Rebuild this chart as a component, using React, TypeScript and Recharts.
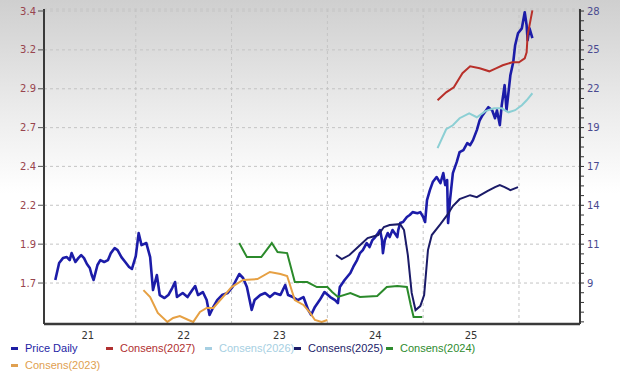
import { LineChart, Line, XAxis, YAxis, CartesianGrid, ReferenceLine } from "recharts";

// time is a decimal year, price on the right axis, consensus EPS on the left axis
const PRICE: [number, number][] = [
  [2021.16, 9.21], [2021.2, 10.4], [2021.24, 10.74], [2021.28, 10.81], [2021.31, 10.6],
  [2021.33, 11.09], [2021.37, 10.47], [2021.4, 10.74], [2021.43, 10.95], [2021.46, 10.74],
  [2021.49, 10.33], [2021.52, 10.05], [2021.54, 9.56], [2021.56, 9.21], [2021.6, 10.26],
  [2021.63, 10.6], [2021.67, 10.47], [2021.71, 10.6], [2021.74, 11.09], [2021.78, 11.44],
  [2021.81, 11.3], [2021.85, 10.81], [2021.89, 10.47], [2021.93, 10.12], [2021.96, 9.98],
  [2022.0, 10.88], [2022.03, 12.49], [2022.06, 11.65], [2022.11, 11.79], [2022.15, 10.81],
  [2022.18, 8.51], [2022.22, 9.56], [2022.25, 8.16], [2022.3, 7.95], [2022.34, 8.16],
  [2022.38, 8.65], [2022.41, 9.07], [2022.43, 8.02], [2022.49, 8.3], [2022.54, 8.02],
  [2022.59, 8.51], [2022.62, 8.79], [2022.65, 8.16], [2022.7, 8.37], [2022.74, 7.81],
  [2022.77, 6.77], [2022.81, 7.33], [2022.85, 7.81], [2022.9, 8.16], [2022.96, 8.3],
  [2023.01, 8.72], [2023.08, 9.63], [2023.12, 9.35], [2023.16, 8.72], [2023.21, 7.12],
  [2023.24, 7.81], [2023.3, 8.16], [2023.35, 8.3], [2023.4, 8.02], [2023.45, 8.3],
  [2023.51, 8.16], [2023.56, 8.86], [2023.59, 8.16], [2023.64, 8.02], [2023.69, 7.81],
  [2023.75, 8.02], [2023.8, 7.12], [2023.83, 6.77], [2023.87, 7.33], [2023.92, 7.81],
  [2023.97, 8.37], [2024.03, 8.02], [2024.08, 7.81], [2024.11, 7.6], [2024.13, 8.72],
  [2024.18, 9.21], [2024.24, 9.7], [2024.27, 10.12], [2024.31, 10.6], [2024.34, 11.09],
  [2024.37, 11.3], [2024.41, 11.79], [2024.44, 11.51], [2024.47, 12.0], [2024.5, 12.21],
  [2024.53, 12.49], [2024.55, 12.7], [2024.57, 12.0], [2024.58, 11.09], [2024.6, 12.0],
  [2024.63, 12.49], [2024.65, 12.21], [2024.68, 12.7], [2024.73, 12.21], [2024.74, 12.7],
  [2024.76, 13.19], [2024.79, 13.26], [2024.83, 13.61], [2024.86, 13.75], [2024.89, 13.95],
  [2024.94, 13.88], [2024.97, 13.95], [2025.0, 13.61], [2025.02, 13.26], [2025.04, 14.79],
  [2025.07, 15.49], [2025.1, 16.05], [2025.14, 16.4], [2025.18, 15.98], [2025.21, 16.68],
  [2025.23, 15.84], [2025.25, 16.19], [2025.26, 13.19], [2025.28, 14.79], [2025.31, 16.68],
  [2025.35, 17.44], [2025.38, 18.14], [2025.42, 18.28], [2025.46, 18.77], [2025.49, 18.63],
  [2025.52, 18.98], [2025.56, 19.68], [2025.59, 20.37], [2025.62, 20.72], [2025.68, 21.28],
  [2025.72, 21.07], [2025.75, 20.51], [2025.77, 21.07], [2025.8, 20.03], [2025.82, 21.42],
  [2025.85, 22.82], [2025.87, 21.07], [2025.91, 23.51], [2025.94, 24.42], [2025.96, 25.61],
  [2025.99, 26.45], [2026.03, 26.79], [2026.06, 27.91], [2026.08, 27.0], [2026.09, 25.96],
  [2026.11, 26.79], [2026.14, 26.1],
];

const CONS_2027: [number, number][] = [
  [2025.15, 2.842], [2025.24, 2.892], [2025.32, 2.923], [2025.41, 3.011], [2025.49, 3.054],
  [2025.59, 3.042], [2025.69, 3.023], [2025.76, 3.042], [2025.83, 3.061], [2025.93, 3.079],
  [2026.0, 3.079], [2026.06, 3.104], [2026.08, 3.142], [2026.09, 3.248], [2026.14, 3.404],
];

const CONS_2026: [number, number][] = [
  [2025.15, 2.543], [2025.24, 2.661], [2025.31, 2.686], [2025.38, 2.73], [2025.48, 2.761],
  [2025.56, 2.736], [2025.65, 2.774], [2025.74, 2.792], [2025.82, 2.792], [2025.89, 2.767],
  [2025.96, 2.78], [2026.03, 2.811], [2026.08, 2.842], [2026.14, 2.886],
];

const CONS_2025: [number, number][] = [
  [2024.09, 1.875], [2024.15, 1.85], [2024.23, 1.875], [2024.32, 1.925], [2024.42, 1.981],
  [2024.53, 2.0], [2024.59, 2.05], [2024.65, 2.062], [2024.76, 2.068], [2024.8, 2.031],
  [2024.84, 1.875], [2024.88, 1.638], [2024.92, 1.531], [2024.97, 1.556], [2025.01, 1.625],
  [2025.05, 1.906], [2025.09, 2.0], [2025.18, 2.068], [2025.25, 2.124], [2025.31, 2.181],
  [2025.38, 2.224], [2025.49, 2.249], [2025.56, 2.237], [2025.67, 2.274], [2025.75, 2.299],
  [2025.8, 2.312], [2025.85, 2.299], [2025.91, 2.281], [2025.99, 2.299],
];

const CONS_2024: [number, number][] = [
  [2023.08, 1.95], [2023.16, 1.862], [2023.31, 1.862], [2023.42, 1.95], [2023.48, 1.894],
  [2023.58, 1.887], [2023.66, 1.706], [2023.79, 1.706], [2023.89, 1.675], [2024.0, 1.675],
  [2024.05, 1.644], [2024.11, 1.613], [2024.24, 1.638], [2024.34, 1.613], [2024.52, 1.619],
  [2024.62, 1.675], [2024.73, 1.681], [2024.83, 1.675], [2024.87, 1.563], [2024.9, 1.488],
  [2024.99, 1.488],
];

const CONS_2023: [number, number][] = [
  [2022.08, 1.656], [2022.15, 1.613], [2022.23, 1.513], [2022.33, 1.457], [2022.39, 1.482],
  [2022.46, 1.494], [2022.55, 1.469], [2022.6, 1.457], [2022.67, 1.519], [2022.74, 1.544],
  [2022.81, 1.544], [2022.9, 1.606], [2023.0, 1.675], [2023.12, 1.719], [2023.27, 1.725],
  [2023.4, 1.769], [2023.51, 1.756], [2023.58, 1.744], [2023.66, 1.594], [2023.75, 1.563],
  [2023.82, 1.513], [2023.87, 1.469], [2023.94, 1.457], [2024.0, 1.469],
];

const YEAR_TICKS = [2021.5, 2022.5, 2023.5, 2024.5, 2025.5];
const YEAR_LABELS = ["21", "22", "23", "24", "25"];
const YEAR_STARTS = [2022, 2023, 2024, 2025, 2026];

const LEFT_TICKS = [1.7, 1.943, 2.186, 2.429, 2.671, 2.914, 3.157, 3.4];
const LEFT_LABELS = ["1.7", "1.9", "2.2", "2.4", "2.7", "2.9", "3.2", "3.4"];
const RIGHT_TICKS = [9, 11.714, 14.429, 17.143, 19.857, 22.571, 25.286, 28];
const RIGHT_LABELS = ["9", "11", "14", "17", "19", "22", "25", "28"];

const X_DOMAIN = [2021.042, 2026.637];
const LEFT_DOMAIN = [1.444, 3.4125];
const RIGHT_DOMAIN = [6.137, 28.14];

const toRows = (pairs: [number, number][]) => pairs.map(([t, v]) => ({ t, v }));

// right axis carries four minor ticks per labelled step
const step = (RIGHT_TICKS[1] - RIGHT_TICKS[0]) / 4;
const rightAllTicks: number[] = [];
for (let v = RIGHT_TICKS[0] - step * 4; v <= 28.001; v += step) {
  if (v >= RIGHT_DOMAIN[0]) rightAllTicks.push(Math.round(v * 1000) / 1000);
}

const SERIES = [
  { name: "Consens(2023)", data: CONS_2023, color: "#e6a043" },
  { name: "Consens(2024)", data: CONS_2024, color: "#2b8a2b" },
  { name: "Consens(2025)", data: CONS_2025, color: "#1b1b68" },
  { name: "Consens(2026)", data: CONS_2026, color: "#8ccfd4" },
  { name: "Consens(2027)", data: CONS_2027, color: "#b8302a" },
];

const LEGEND = [
  { name: "Price Daily", color: "#1e1ea4", left: 11, top: 342 },
  { name: "Consens(2027)", color: "#b03030", left: 106, top: 342 },
  { name: "Consens(2026)", color: "#a6cfe2", left: 205, top: 342 },
  { name: "Consens(2025)", color: "#1b1b68", left: 294, top: 342 },
  { name: "Consens(2024)", color: "#2e8b2e", left: 386, top: 342 },
  { name: "Consens(2023)", color: "#e0a050", left: 11, top: 359 },
];

const tickFont = { fontSize: 10, fontFamily: "DejaVu Sans" };

export default function App() {
  return (
    <div
      style={{
        position: "absolute",
        left: 0,
        top: 0,
        width: 620,
        height: 372,
        background: "linear-gradient(to bottom, #cfcfcf 0%, #ececec 30%, #ffffff 52%)",
      }}
    >
      <LineChart width={620} height={372} margin={{ top: 9, right: 0, bottom: 28, left: 0 }}>
        <CartesianGrid yAxisId="left" vertical={false} stroke="#c4c4c4" strokeDasharray="3 3" />
        <XAxis
          type="number"
          dataKey="t"
          domain={X_DOMAIN}
          allowDataOverflow
          ticks={YEAR_TICKS}
          interval={0}
          tickFormatter={(v: number) => YEAR_LABELS[YEAR_TICKS.indexOf(v)] ?? ""}
          tick={{ ...tickFont, fill: "#333" }}
          tickLine={false}
          axisLine={{ stroke: "#3a3a3a", strokeWidth: 2.5 }}
          height={20}
        />
        <YAxis
          yAxisId="left"
          domain={LEFT_DOMAIN}
          allowDataOverflow
          ticks={LEFT_TICKS}
          interval={0}
          tickFormatter={(v: number) => LEFT_LABELS[LEFT_TICKS.indexOf(v)] ?? ""}
          tick={{ ...tickFont, fill: "#98444e" }}
          tickSize={6}
          tickMargin={2}
          tickLine={{ stroke: "#555" }}
          axisLine={{ stroke: "#3a3a3a", strokeWidth: 2 }}
          width={44}
        />
        <YAxis
          yAxisId="right"
          orientation="right"
          domain={RIGHT_DOMAIN}
          allowDataOverflow
          ticks={rightAllTicks}
          interval={0}
          tickFormatter={(v: number) => {
            const i = RIGHT_TICKS.findIndex((m) => Math.abs(m - v) < 0.01);
            return i >= 0 ? RIGHT_LABELS[i] : "";
          }}
          tick={{ ...tickFont, fill: "#4a4a90" }}
          tickSize={4}
          tickMargin={3}
          tickLine={{ stroke: "#333" }}
          axisLine={{ stroke: "#3a3a3a", strokeWidth: 2 }}
          width={40}
        />
        {YEAR_STARTS.map((y) => (
          <ReferenceLine key={y} x={y} yAxisId="left" stroke="#c4c4c4" strokeDasharray="3 3" />
        ))}
        <Line
          yAxisId="right"
          data={toRows(PRICE)}
          dataKey="v"
          stroke="#1c1ca8"
          strokeWidth={2.6}
          strokeLinejoin="round"
          dot={false}
          isAnimationActive={false}
        />
        {SERIES.map((s) => (
          <Line
            key={s.name}
            yAxisId="left"
            data={toRows(s.data)}
            dataKey="v"
            stroke={s.color}
            strokeWidth={2}
            dot={false}
            isAnimationActive={false}
          />
        ))}
      </LineChart>
      {LEGEND.map((l) => (
        <div
          key={l.name}
          style={{
            position: "absolute",
            left: l.left,
            top: l.top,
            display: "flex",
            alignItems: "center",
            fontFamily: "Liberation Sans, Arial, sans-serif",
            fontSize: 11,
            lineHeight: "13px",
            color: l.color,
            whiteSpace: "nowrap",
          }}
        >
          <span style={{ width: 7, height: 3, background: l.color, marginRight: 7 }} />
          {l.name}
        </div>
      ))}
    </div>
  );
}
